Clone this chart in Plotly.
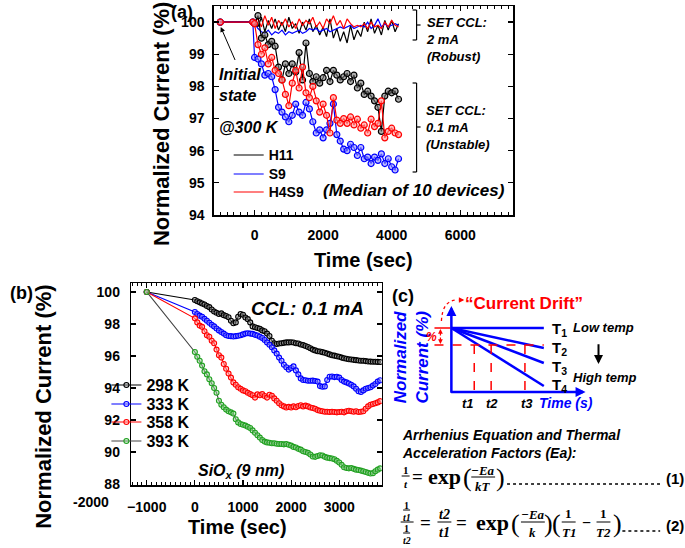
import plotly.graph_objects as go

W, H = 685, 548          # reference picture size (layout coordinates below)
H_PLOT = 556             # page height actually photographed (scaled to 548)
YS = H_PLOT / H
SANS = "Liberation Sans, Arial, sans-serif"
SERIF = "Liberation Serif, Times New Roman, serif"


def px(x):
    return x / W


def py(y):
    return 1 - y / H


# ---------------- Panel (a) data ----------------
time_a = [-1000, -50, 0, 100, 200, 300, 400, 500, 600, 700, 800, 900,
          1000, 1100, 1200, 1300, 1400, 1500, 1600, 1700, 1800, 1900,
          2000, 2100, 2200, 2300, 2400, 2500, 2600, 2700, 2800, 2900,
          3000, 3100, 3200, 3300, 3400, 3500, 3600, 3700, 3800, 3900,
          4000, 4100, 4200]

h11_2mA = [100.0, 100.0,
           100.0, 99.85, 100.15, 99.7, 100.05, 99.8, 100.1, 99.75, 100.0, 99.7,
           100.15, 99.8, 99.95, 99.65, 100.0, 99.75, 100.1, 99.7, 99.9, 99.6,
           99.85, 99.55, 100.1, 99.5, 99.8, 99.4, 99.7, 99.35, 99.9, 99.45,
           99.75, 99.55, 100.0, 99.7, 100.1, 99.65, 99.9, 99.6, 100.05, 99.75,
           100.05, 99.7, 99.95]
s9_2mA = [100.0, 100.0,
          99.95, 99.8, 99.7, 99.65, 99.75, 99.6, 99.7, 99.65, 99.75, 99.6,
          99.7, 99.65, 99.7, 99.75, 99.65, 99.7, 99.8, 99.75, 99.8, 99.7,
          99.75, 99.8, 99.7, 99.75, 99.8, 99.85, 99.8, 99.85, 99.9, 99.8,
          99.85, 99.9, 99.85, 100.0, 99.8, 99.9, 100.1, 99.85, 99.95, 99.85,
          99.9, 99.95, 99.9]
h4s9_2mA = [100.0, 100.0,
            100.0, 100.1, 99.85, 100.2, 99.9, 100.15, 99.8, 100.05, 99.9, 100.1,
            99.85, 100.0, 99.8, 100.1, 99.9, 100.05, 99.95, 100.15, 99.85, 100.0,
            99.8, 100.1, 99.95, 100.2, 99.9, 100.05, 99.8, 100.1, 99.95, 99.85,
            99.9, 99.85, 99.95, 99.8, 100.0, 99.85, 99.9, 99.8, 100.0, 99.85,
            100.05, 99.9, 99.85]
h11_01mA = [100.0, 100.0,
            99.95, 100.2, 99.5, 99.6, 99.3, 99.4, 99.25, 98.6, 98.2, 98.7,
            98.4, 98.7, 98.45, 99.05, 98.2, 99.35, 98.4, 98.15, 98.3, 98.1,
            98.27, 98.5, 98.15, 98.5, 98.35, 98.2, 98.3, 98.4, 98.15, 98.35,
            97.95, 98.1, 97.75, 97.85, 97.7, 97.55, 97.35, 96.6, 97.7, 97.85,
            97.8, 97.85, 97.6]
s9_01mA = [100.0, 100.0,
           98.9, 98.85, 98.7, 98.35, 98.4, 98.3, 97.9, 97.35, 97.2, 97.05,
           96.9, 97.1, 97.45, 97.2, 97.1, 97.5, 97.3, 96.9, 96.55, 96.65,
           96.4, 96.65, 96.85, 97.45, 96.5, 96.3, 96.05, 96.0, 96.2, 96.1,
           95.85, 96.1, 95.75, 95.8, 95.6, 95.8, 95.7, 95.9, 95.6, 95.75,
           95.5, 95.4, 95.75]
h4s9_01mA = [100.0, 100.0,
             99.95, 99.3, 99.0, 99.2, 98.7, 98.9, 98.5, 98.4, 98.2, 97.75,
             97.4, 98.1, 98.5, 97.95, 98.6, 97.8, 97.65, 98.0, 97.55, 97.2,
             97.45, 97.1, 96.55, 97.65, 96.95, 96.85, 97.0, 96.85, 97.05, 96.8,
             96.98, 96.7, 96.8, 96.55, 96.98, 96.75, 96.85, 97.55, 96.4, 96.6,
             96.7, 96.55, 96.5]

# ---------------- Panel (b) data ----------------
time_b = [-1000,
          0, 50, 100, 150, 200, 250, 300, 350, 400, 450,
          500, 550, 600, 650, 700, 750, 800, 850, 900, 950,
          1000, 1050, 1100, 1150, 1200, 1250, 1300, 1350, 1400, 1450,
          1500, 1550, 1600, 1650, 1700, 1750, 1800, 1850, 1900, 1950,
          2000, 2050, 2100, 2150, 2200, 2250, 2300, 2350, 2400, 2450,
          2500, 2550, 2600, 2650, 2700, 2750, 2800, 2850, 2900, 2950,
          3000, 3050, 3100, 3150, 3200, 3250, 3300, 3350, 3400, 3450,
          3500, 3550, 3600, 3650, 3700, 3750, 3800, 3850]

k298 = [100.0,
        99.50, 99.42, 99.35, 99.28, 99.22, 99.12, 99.05, 98.90, 98.78, 98.70,
        98.62, 98.66, 98.55, 98.50, 98.42, 98.20, 98.05, 98.10, 98.45, 98.62,
        98.58, 98.40, 98.30, 98.10, 97.85, 97.80, 97.75, 97.70, 97.60, 97.55,
        97.40, 97.25, 96.95, 96.80, 96.75, 96.78, 96.80, 96.82, 96.85, 96.85,
        96.86, 96.84, 96.80, 96.78, 96.72, 96.68, 96.62, 96.56, 96.48, 96.40,
        96.35, 96.30, 96.28, 96.24, 96.20, 96.15, 96.10, 96.05, 96.02, 95.98,
        95.95, 95.90, 95.86, 95.83, 95.80, 95.78, 95.76, 95.74, 95.72, 95.70,
        95.70, 95.68, 95.66, 95.65, 95.64, 95.64, 95.63, 95.62]
k333 = [100.0,
        98.75, 98.62, 98.52, 98.45, 98.32, 98.20, 98.08, 97.95, 97.85, 97.72,
        97.60, 97.50, 97.40, 97.30, 97.25, 97.24, 97.22, 97.24, 97.26, 97.30,
        97.35, 97.40, 97.42, 97.40, 97.38, 97.32, 97.28, 97.20, 97.12, 97.00,
        96.85, 96.70, 96.55, 96.35, 96.15, 95.90, 95.70, 95.45, 95.30, 95.15,
        95.25, 95.35, 95.10, 94.85, 94.60, 94.50, 94.48, 94.45, 94.45, 94.46,
        94.44, 94.40, 94.12, 94.08, 94.10, 94.50, 94.70, 94.72, 94.68, 94.70,
        94.65, 94.50, 94.40, 94.35, 94.28, 94.20, 94.10, 93.95, 93.80, 93.75,
        93.85, 93.95, 94.00, 94.05, 94.15, 94.25, 94.40, 94.48]
k358 = [100.0,
        98.35, 98.10, 97.90, 97.82, 97.55, 97.30, 97.20, 96.95, 96.80, 96.40,
        96.05, 95.90, 95.50, 95.20, 94.90, 94.65, 94.35, 94.20, 94.05, 93.95,
        93.85, 93.80, 93.70, 93.62, 93.55, 93.40, 93.60, 93.55, 93.62, 93.50,
        93.40, 93.58, 93.52, 93.35, 93.20, 93.05, 92.92, 92.85, 92.78, 92.82,
        92.78, 92.85, 92.80, 92.88, 92.92, 92.85, 92.90, 92.85, 92.78, 92.75,
        92.70, 92.62, 92.58, 92.55, 92.52, 92.52, 92.50, 92.52, 92.50, 92.48,
        92.50, 92.52, 92.48, 92.55, 92.58, 92.55, 92.52, 92.55, 92.50, 92.52,
        92.55, 92.70, 92.85, 92.95, 93.00, 93.05, 93.10, 93.18]
k393 = [100.0,
        96.25, 95.95, 95.70, 95.40, 95.05, 94.85, 94.55, 94.30, 94.00, 93.70,
        93.20, 92.95, 92.80, 92.65, 92.55, 92.48, 92.40, 92.05, 91.85, 91.75,
        91.70, 91.65, 91.58, 91.50, 91.35, 91.20, 91.05, 90.90, 90.75, 90.65,
        90.60, 90.58, 90.55, 90.55, 90.52, 90.50, 90.50, 90.48, 90.50, 90.45,
        90.40, 90.32, 90.28, 90.20, 90.15, 90.05, 90.00, 89.95, 89.85, 89.72,
        89.70, 89.75, 89.80, 89.78, 89.70, 89.65, 89.62, 89.60, 89.55, 89.45,
        89.35, 89.20, 89.05, 89.00, 88.98, 89.00, 88.95, 88.90, 88.88, 88.84,
        88.80, 88.75, 88.70, 88.66, 88.68, 88.80, 88.90, 88.98]

a_ticks_x = [0, 2000, 4000, 6000]
a_ticks_y = [94, 95, 96, 97, 98, 99, 100]
b_ticks_x = [-1000, 0, 1000, 2000, 3000]
b_ticks_y = [88, 90, 92, 94, 96, 98, 100]

BLACK, BLUE, RED = "#000000", "#0000FF", "#FF0000"
GREEN, GREY = "#22A022", "#444444"

fig = go.Figure()

# ---- panel (a): robust (lines only, shown in legend) ----
for name, ys, col, lg in [("H11", h11_2mA, BLACK, "legend"),
                          ("S9", s9_2mA, BLUE, "legend2"),
                          ("H4S9", h4s9_2mA, RED, "legend3")]:
    fig.add_trace(go.Scatter(x=time_a, y=ys, mode="lines", name=name,
                             line=dict(color=col, width=1.2),
                             xaxis="x", yaxis="y", legend=lg))
# ---- panel (a): unstable (lines + markers) ----
for ys, col, fill in [(h11_01mA, BLACK, "rgba(120,120,120,0.6)"),
                      (s9_01mA, BLUE, "rgba(140,140,255,0.6)"),
                      (h4s9_01mA, RED, "rgba(255,150,150,0.6)")]:
    fig.add_trace(go.Scatter(x=time_a, y=ys, mode="lines+markers", showlegend=False,
                             line=dict(color=col, width=1.2),
                             marker=dict(symbol="circle", size=6, color=fill,
                                         line=dict(color=col, width=1.2)),
                             xaxis="x", yaxis="y"))

# ---- panel (b) ----
for name, ys, lcol, mcol, fill, lg in [
        ("298 K", k298, BLACK, BLACK, "rgba(150,150,150,0.5)", "legend4"),
        ("333 K", k333, BLUE, BLUE, "rgba(150,150,255,0.5)", "legend5"),
        ("358 K", k358, RED, RED, "rgba(255,160,160,0.5)", "legend6"),
        ("393 K", k393, GREY, GREEN, "rgba(150,220,150,0.5)", "legend7")]:
    fig.add_trace(go.Scatter(x=time_b, y=ys, mode="lines+markers", name=name,
                             line=dict(color=lcol, width=1.1),
                             marker=dict(symbol="circle", size=5, color=fill,
                                         line=dict(color=mcol, width=1.1)),
                             xaxis="x2", yaxis="y2", legend=lg))

tickfont = dict(family=SANS, size=14, color="black", weight="bold")
axis_common = dict(showline=True, linecolor="black", linewidth=1.5, mirror="ticks",
                   ticks="inside", tickcolor="black", tickwidth=1.2, ticklen=5,
                   showgrid=False, zeroline=False, tickfont=tickfont)

fig.update_layout(
    width=W, height=H_PLOT, autosize=False, margin=dict(l=0, r=0, t=0, b=0),
    paper_bgcolor="white", plot_bgcolor="white", hovermode=False,
    xaxis=dict(domain=[px(211), px(512)], range=[-1190, 7540], anchor="y",
               tickmode="array", tickvals=a_ticks_x, ticklabelstandoff=7,
               minor=dict(ticks="inside", ticklen=3, tickcolor="black", tickwidth=1,
                          dtick=200, tick0=0), **axis_common),
    yaxis=dict(domain=[py(215), py(6)], range=[94, 100.5], anchor="x",
               tickmode="array", tickvals=a_ticks_y, ticklabelstandoff=5,
               **axis_common),
    xaxis2=dict(domain=[px(128), px(380)], range=[-1322, 3884], anchor="y2",
                tickmode="array", tickvals=b_ticks_x, ticklabelstandoff=9,
                minor=dict(ticks="inside", ticklen=3, tickcolor="black", tickwidth=1,
                           dtick=100, tick0=0), **axis_common),
    yaxis2=dict(domain=[py(485), py(283)], range=[87.94, 100.56], anchor="x2",
                tickmode="array", tickvals=b_ticks_y, ticklabelstandoff=7,
                **axis_common),
)

# legends: one per entry for precise placement
lfa = dict(family=SANS, size=14, color="black", weight="bold")
lfb = dict(family=SANS, size=16, color="black", weight="bold")
leg_pos = {"legend": (226, 152, lfa, 12.6), "legend2": (226, 171, lfa, 12.6),
           "legend3": (226, 189, lfa, 12.6),
           "legend4": (103, 380, lfb, 11.9), "legend5": (103, 399, lfb, 11.9),
           "legend6": (103, 417, lfb, 11.9), "legend7": (103, 436, lfb, 11.9)}
for key, (lx, ly, lf, off) in leg_pos.items():
    fig.update_layout({key: dict(x=px(lx), y=py(ly - off), xanchor="left", yanchor="top",
                                 bgcolor="rgba(0,0,0,0)", font=lf, borderwidth=0)})

annotations = []
shapes = []


def txt(x, y, s, size, color="black", xanchor="center", yanchor="middle",
        family=SANS, angle=0):
    annotations.append(dict(x=px(x), y=py(y), xref="paper", yref="paper", text=s,
                            showarrow=False, xanchor=xanchor, yanchor=yanchor,
                            align=xanchor if xanchor in ("left", "right") else "center",
                            textangle=angle, borderpad=0, borderwidth=0,
                            font=dict(family=family, size=size, color=color)))


def seg(x0, y0, x1, y1, color="black", width=1.0, dash="solid"):
    shapes.append(dict(type="line", xref="paper", yref="paper",
                       x0=px(x0), y0=py(y0), x1=px(x1), y1=py(y1),
                       line=dict(color=color, width=width, dash=dash)))


def arrow(xh, yh, xt, yt, color="black", width=1.0, head=2, size=1.0):
    annotations.append(dict(x=px(xh), y=py(yh), xref="paper", yref="paper",
                            ax=xt - xh, ay=(yt - yh) * YS, axref="pixel", ayref="pixel",
                            text="", showarrow=True, arrowhead=head, arrowsize=size,
                            arrowwidth=width, arrowcolor=color, standoff=0,
                            startstandoff=0))


# ---- panel (a) texts ----
txt(179, 12, "<b>(a)</b>", 18)
txt(158, 124, "<b>Normalized Current (%)</b>", 22, angle=-90)
txt(362, 260, "<b>Time (sec)</b>", 20)
txt(216, 85, "<b><i>Initial<br>state</i></b>", 16, xanchor="left")
arrow(218, 27, 233, 61, width=1.0, head=2, size=1.0)
txt(216, 128, "<b><i>@300 K</i></b>", 16, xanchor="left")
txt(321, 190, "<b><i>(Median of 10 devices)</i></b>", 17, xanchor="left")
# brackets
for (yt, ym, yb) in [(10, 25, 40), (83, 127, 172)]:
    seg(415, yt, 415, yb, width=1.2)
    seg(411, yt, 415, yt, width=1.2)
    seg(411, yb, 415, yb, width=1.2)
    seg(415, ym, 419, ym, width=1.2)
txt(424, 39.5, "<b><i>SET CCL:<br>2 mA<br>(Robust)</i></b>", 13, xanchor="left")
txt(424, 128, "<b><i>SET CCL:<br>0.1 mA<br>(Unstable)</i></b>", 13, xanchor="left")

# ---- panel (b) texts ----
txt(18, 293, "<b>(b)</b>", 18)
txt(39, 407, "<b>Normalized Current (%)</b>", 22, angle=-90)
txt(235, 527, "<b>Time (sec)</b>", 20)
txt(88, 502, "<b>-2000</b>", 14)
txt(305, 308, "<b><i>CCL: 0.1 mA</i></b>", 19)
txt(238, 472, "<b><i>SiO<sub>x</sub> (9 nm)</i></b>", 16)

# ---- panel (c) schematic ----
txt(401, 296, "<b>(c)</b>", 18)
txt(523, 303, "<b>\u201cCurrent Drift\u201d</b>", 17, color=RED)
txt(409, 357, "<b><i>Normalized<br>Current (%)</i></b>", 17, color=BLUE, angle=-90)
# axes
arrow(450, 306, 450, 393, color=BLUE, width=2.5, head=2, size=0.8)
arrow(585, 392, 449, 392, color=BLUE, width=2.5, head=2, size=0.8)
# temperature lines
for yend in [328, 348, 363, 386]:
    seg(450, 328, 543, yend, color=BLUE, width=2.5)
for lbl, yl in [("1", 329), ("2", 348), ("3", 367), ("4", 385)]:
    txt(551, yl, "<b>T<sub>%s</sub></b>" % lbl, 15, xanchor="left")
# red guides
seg(433, 328, 449, 328, color=RED, width=1.5)
seg(433, 345, 543, 345, color=RED, width=1.5, dash="dash")
for xv in [473, 490, 524]:
    seg(xv, 345, xv, 391, color=RED, width=1.5, dash="dash")
arrow(439, 329, 439, 337, color=RED, width=1.2, head=2, size=0.8)
arrow(439, 344, 439, 336, color=RED, width=1.2, head=2, size=0.8)
txt(430, 337, "<b><i>%</i></b>", 12, color=RED)
shapes.append(dict(type="path", xref="paper", yref="paper",
                   path="M %f,%f Q %f,%f %f,%f" % (px(440), py(321), px(441), py(300),
                                                   px(456), py(300)),
                   line=dict(color=RED, width=1.3, dash="dot")))
arrow(463, 300, 456, 300, color=RED, width=1.2, head=2, size=0.9)
for lbl, xl in [("t1", 467), ("t2", 491), ("t3", 526)]:
    txt(xl, 403, "<b><i>%s</i></b>" % lbl, 13)
txt(565, 403, "<b><i>Time (s)</i></b>", 14, color=BLUE)
txt(572, 327, "<b><i>Low temp</i></b>", 13, xanchor="left")
txt(572, 377, "<b><i>High temp</i></b>", 13, xanchor="left")
arrow(598, 364, 598, 343, width=2.0, head=2, size=0.9)

# ---- equations ----
txt(400, 444, "<b><i>Arrhenius Equation and Thermal<br>Acceleration Factors (Ea):</i></b>",
    14, xanchor="left")


def frac(xc, ybar, num, den, size, half, dn=7, dd=8, bw=1.0):
    txt(xc, ybar - dn, num, size, family=SERIF)
    txt(xc, ybar + dd, den, size, family=SERIF)
    seg(xc - half, ybar, xc + half, ybar, width=bw)


# eq (1)
frac(404, 476, "<b>1</b>", "<b><i>t</i></b>", 11, 4, dn=6, dd=8)
txt(416, 476, "<b>=</b>", 19, family=SERIF)
txt(443, 476, "<b>exp</b>", 22, family=SERIF)
txt(466, 477, "(", 26, family=SERIF)
frac(482, 477, "<b><i>\u2212Ea</i></b>", "<b><i>kT</i></b>", 13, 12, dn=7, dd=9)
txt(499, 477, ")", 26, family=SERIF)
seg(506, 484, 660, 484, width=1.3, dash="dot")
txt(684, 478, "<b>(1)</b>", 15, xanchor="right")

# eq (2)
seg(399, 522, 412, 522, width=1.0)
frac(405, 510, "<b>1</b>", "<b><i>t1</i></b>", 10, 3.5, dn=5, dd=7)
frac(405, 533, "<b>1</b>", "<b><i>t2</i></b>", 10, 3.5, dn=5, dd=7)
txt(424, 522, "<b>=</b>", 19, family=SERIF)
frac(443, 522, "<b><i>t2</i></b>", "<b><i>t1</i></b>", 14, 7, dn=8, dd=10)
txt(460, 522, "<b>=</b>", 19, family=SERIF)
txt(491, 522, "<b>exp</b>", 22, family=SERIF)
txt(515, 523, "(", 26, family=SERIF)
frac(532, 522, "<b><i>\u2212Ea</i></b>", "<b><i>k</i></b>", 13, 12, dn=8, dd=10)
txt(548, 523, ")", 26, family=SERIF)
txt(556, 523, "(", 26, family=SERIF)
frac(568, 522, "<b>1</b>", "<b><i>T1</i></b>", 13, 7, dn=9, dd=10)
txt(586, 522, "<b>\u2212</b>", 16, family=SERIF)
frac(603, 522, "<b>1</b>", "<b><i>T2</i></b>", 13, 7, dn=9, dd=10)
txt(617, 523, ")", 26, family=SERIF)
seg(622, 531, 660, 531, width=1.3, dash="dot")
txt(684, 525, "<b>(2)</b>", 15, xanchor="right")

fig.update_layout(annotations=annotations, shapes=shapes)

PAGE_FIX = ("var s=document.createElement('style');"
            "s.innerHTML='html,body{margin:0;padding:0;overflow:hidden;}';"
            "document.head.appendChild(s);")
fig.write_html("out.html", config={"displayModeBar": False, "staticPlot": True},
               post_script=PAGE_FIX)
